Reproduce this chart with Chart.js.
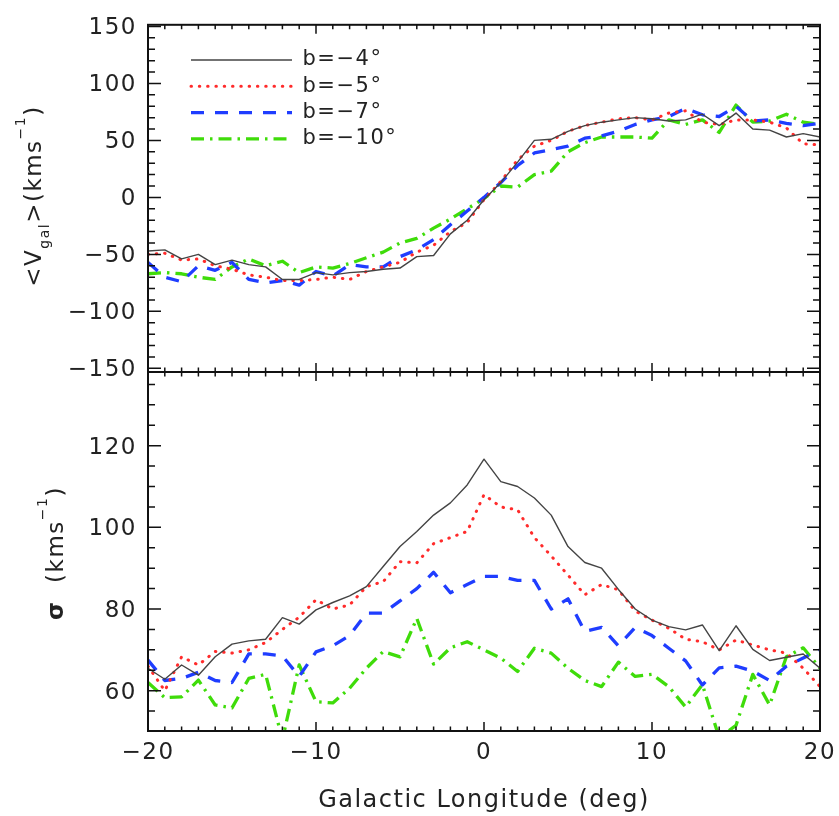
<!DOCTYPE html>
<html>
<head>
<meta charset="utf-8">
<title>Mean velocity and dispersion vs Galactic longitude</title>
<script src="https://cdn.jsdelivr.net/npm/chart.js@4.4.1/dist/chart.umd.min.js"></script>
<style>
  html, body { margin: 0; padding: 0; background: #ffffff; overflow: hidden; }
  #wrap { position: relative; width: 839px; height: 816px; background: #ffffff; }
  #wrap canvas { position: absolute; left: 0; top: 0; }
</style>
</head>
<body>
<div id="wrap">
  <canvas id="topChart" width="839" height="816"></canvas>
  <canvas id="bottomChart" width="839" height="816"></canvas>
</div>
<script>
// ---------------- data ----------------
const longitudes = [-20,-19,-18,-17,-16,-15,-14,-13,-12,-11,-10,-9,-8,-7,-6,-5,-4,-3,-2,-1,0,1,2,3,4,5,6,7,8,9,10,11,12,13,14,15,16,17,18,19,20];
const seriesLabels = ['b=\u22124\u00b0', 'b=\u22125\u00b0', 'b=\u22127\u00b0', 'b=\u221210\u00b0'];

// <V_gal> (km/s)
const vMeanB4  = [-47,-46,-54,-50,-59,-55,-59,-61,-72,-72,-66,-68,-66,-65,-63,-62,-52,-51,-32,-20,-2,13,31,50,51,58,63,66,68,70,69,67,68,73,63,74,60,59,53,56,53];
const vMeanB5  = [-50,-49,-55,-54,-60,-63,-68,-70,-73,-73,-72,-70,-72,-65,-61,-57,-48,-42,-30,-22,-2,14,33,45,50,58,63,66,69,70,68,74,76,66,64,68,68,66,61,47,46];
const vMeanB7  = [-57,-70,-74,-60,-64,-57,-72,-75,-73,-77,-65,-69,-59,-61,-61,-52,-46,-37,-24,-12,0,13,28,39,42,45,52,54,58,64,68,71,78,72.5,71,80,67,68,65,63,65];
const vMeanB10 = [-67,-66,-67,-70,-72,-61,-54,-60,-56,-66,-61,-62,-58,-53,-48,-40,-36,-27,-19,-10,-1,10,9,20,23,40,48,53,53,53,52,68,64,68,57,81,66,67,73,66,64];

// sigma (km/s)
const sigmaB4  = [65.5,62.8,66.3,63.8,68.3,71.4,72.2,72.6,77.9,76.3,79.8,81.6,83.2,85.5,90.4,95.3,99,103,106,110.4,116.7,111.2,110,107.2,103,95.3,91.4,90,84.8,80,77.3,75.7,74.9,76.1,69.8,75.9,70.1,67.4,68.2,69,65.5];
const sigmaB5  = [66,60,68.3,66.3,69.6,69.2,70,71.8,75,78,82.3,80,81,85.5,86.7,91.6,91.3,96,97.5,99,108,105,104.3,97.5,93,88.3,83.5,86,84.7,79.5,77.3,75.3,72.6,72,70,72.4,71.2,70,69.2,65.5,61];
const sigmaB7  = [67.5,62.5,63,64.5,62.5,62,69,69,68.5,63.5,69.5,71,73.5,79,79,82,85,89,84,86,88,88,87,87,80,82.5,74.5,75.5,71,75.5,73.5,70.4,67.3,61.4,65.6,66,64.8,62.5,66,68,70];
const sigmaB10 = [62,58.3,58.5,62.6,56.5,55.8,63,64,48,66.3,57.3,57,60.6,65.5,69.6,68.3,77.7,66.5,70.5,72,70,68,64.7,70.4,69.2,65.5,62.5,61,67,63.5,64,61,56,61.5,48.5,51.5,64,56.5,68.3,70.5,65.5];

// tick labels
const vTickValues = [-150,-100,-50,0,50,100,150];
const sigmaTickValues = [60,80,100,120];
const lonTickValues = [-20,-10,0,10,20];

// ---------------- styles ----------------
const FONT = "'DejaVu Sans', 'Liberation Sans', sans-serif";
const TEXT = '#222222';
const seriesStyles = [
  { color: '#444444', width: 1.4, dash: [],              cap: 'butt'  },
  { color: '#ff2b2b', width: 3.0, dash: [0.5, 7.8],      cap: 'round' },
  { color: '#1f3dff', width: 3.3, dash: [13, 11],        cap: 'butt'  },
  { color: '#3fdc0a', width: 3.3, dash: [13, 6, 2.5, 6], cap: 'butt'  }
];

function fmt(v) { return v < 0 ? '\u2212' + Math.abs(v) : String(v); }
function range(a, b, s) { const r = []; for (let v = a; v <= b + 1e-9; v += s) r.push(v); return r; }

function makeDatasets(series) {
  return series.map((vals, i) => ({
    label: seriesLabels[i],
    data: longitudes.map((l, k) => ({ x: l, y: vals[k] })),
    borderColor: seriesStyles[i].color,
    backgroundColor: seriesStyles[i].color,
    borderWidth: seriesStyles[i].width,
    borderDash: seriesStyles[i].dash,
    borderCapStyle: seriesStyles[i].cap,
    borderJoinStyle: 'round',
    pointRadius: 0,
    pointHoverRadius: 0,
    tension: 0,
    fill: false,
    clip: 0
  }));
}

// ---------------- plugins ----------------
const spacingPlugin = {
  id: 'spacing',
  beforeDraw(chart) { try { chart.ctx.letterSpacing = '1.5px'; } catch (e) {} }
};

const legendPlacer = {
  id: 'legendPlacer',
  beforeDraw(chart, args, opts) {
    const lg = chart.legend;
    if (!lg || !opts || opts.x === undefined) return;
    lg.left = opts.x - opts.pad;
    lg.top = opts.y - opts.pad - opts.size / 2;
    lg.width = 330; lg.right = lg.left + 330;
    lg.height = 220; lg.bottom = lg.top + 220;
  }
};

const framePlugin = {
  id: 'frame',
  afterDatasetsDraw(chart, args, o) {
    const { ctx, chartArea: a, scales } = chart;
    const xs = scales.x, ys = scales.y;
    ctx.save();
    ctx.strokeStyle = '#111111';
    ctx.lineWidth = 1.5;
    ctx.setLineDash([]);
    ctx.beginPath();
    o.xMinor.forEach(v => {
      const p = xs.getPixelForValue(v);
      if (p <= a.left + 0.5 || p >= a.right - 0.5) return;
      const len = o.xMajor.includes(v) ? 9 : 4.5;
      ctx.moveTo(p, a.bottom); ctx.lineTo(p, a.bottom - len);
      ctx.moveTo(p, a.top); ctx.lineTo(p, a.top + len);
    });
    o.yMinor.forEach(v => {
      const p = ys.getPixelForValue(v);
      if (p <= a.top + 0.5 || p >= a.bottom - 0.5) return;
      const len = o.yMajor.includes(v) ? 13 : 7;
      ctx.moveTo(a.left, p); ctx.lineTo(a.left + len, p);
      ctx.moveTo(a.right, p); ctx.lineTo(a.right - len, p);
    });
    ctx.stroke();
    ctx.lineWidth = 2;
    ctx.strokeRect(a.left, a.top, a.right - a.left, a.bottom - a.top);
    ctx.restore();
  }
};

const richYTitle = {
  id: 'richYTitle',
  afterDraw(chart, args, o) {
    if (!o || !o.parts) return;
    const ctx = chart.ctx, fs = o.size;
    const small = Math.round(fs * 0.62);
    const fontFor = p => (p.bold ? 'bold ' : '') + ((p.sub || p.sup) ? small : fs) + 'px ' + FONT;
    ctx.save();
    try { ctx.letterSpacing = '1.5px'; } catch (e) {}
    ctx.fillStyle = TEXT;
    ctx.translate(o.x, o.y);
    ctx.rotate(-Math.PI / 2);
    ctx.textAlign = 'left';
    ctx.textBaseline = 'alphabetic';
    let total = 0;
    o.parts.forEach(p => { ctx.font = fontFor(p); total += ctx.measureText(p.text).width; });
    let cx = -total / 2;
    o.parts.forEach(p => {
      ctx.font = fontFor(p);
      const dy = p.sub ? fs * 0.35 : (p.sup ? -fs * 0.7 : 0);
      ctx.fillText(p.text, cx, dy);
      cx += ctx.measureText(p.text).width;
    });
    ctx.restore();
  }
};

const LEGEND_FONT = 21;
const LEGEND_PAD = 5.3;

// ---------------- top chart: <V_gal> ----------------
new Chart(document.getElementById('topChart'), {
  type: 'line',
  data: { datasets: makeDatasets([vMeanB4, vMeanB5, vMeanB7, vMeanB10]) },
  options: {
    responsive: false,
    animation: false,
    events: [],
    devicePixelRatio: 1,
    layout: { padding: { top: 16, right: 19, bottom: 444, left: 0 } },
    scales: {
      x: { type: 'linear', min: -20, max: 20, display: false,
           afterFit: s => { s.paddingLeft = 0; s.paddingRight = 0; } },
      y: {
        type: 'linear', min: -153.2, max: 151.45,
        afterBuildTicks: s => { s.ticks = vTickValues.map(v => ({ value: v })); },
        afterFit: s => { s.width = 148; },
        grid: { display: false, drawTicks: false },
        border: { display: false },
        ticks: { padding: 11, labelOffset: 2, color: TEXT, font: { family: FONT, size: 23 }, callback: v => fmt(v) }
      }
    },
    plugins: {
      tooltip: { enabled: false },
      legend: {
        display: true,
        position: 'chartArea',
        align: 'start',
        labels: {
          usePointStyle: true,
          pointStyleWidth: 101,
          padding: LEGEND_PAD,
          color: TEXT,
          font: { family: FONT, size: LEGEND_FONT },
          generateLabels: chart => chart.data.datasets.map((ds, i) => ({
            text: ds.label,
            fontColor: TEXT,
            strokeStyle: ds.borderColor,
            fillStyle: ds.borderColor,
            lineWidth: ds.borderWidth,
            lineDash: ds.borderDash,
            lineDashOffset: 0,
            lineCap: ds.borderCapStyle,
            lineJoin: 'round',
            pointStyle: 'line',
            rotation: 0,
            hidden: false,
            datasetIndex: i
          }))
        }
      },
      legendPlacer: { x: 191, y: 60, pad: LEGEND_PAD, size: LEGEND_FONT },
      frame: {
        xMinor: range(-20, 20, 1), xMajor: lonTickValues,
        yMinor: range(-150, 150, 10), yMajor: vTickValues
      },
      richYTitle: {
        x: 41, y: 196, size: 23,
        parts: [{ text: '<V' }, { text: 'gal', sub: true }, { text: '>(kms' }, { text: '\u22121', sup: true }, { text: ')' }]
      }
    }
  },
  plugins: [spacingPlugin, legendPlacer, framePlugin, richYTitle]
});

// ---------------- bottom chart: sigma ----------------
new Chart(document.getElementById('bottomChart'), {
  type: 'line',
  data: { datasets: makeDatasets([sigmaB4, sigmaB5, sigmaB7, sigmaB10]) },
  options: {
    responsive: false,
    animation: false,
    events: [],
    devicePixelRatio: 1,
    layout: { padding: { top: 372, right: 19, bottom: 0, left: 0 } },
    scales: {
      x: {
        type: 'linear', min: -20, max: 20,
        afterBuildTicks: s => { s.ticks = lonTickValues.map(v => ({ value: v })); },
        afterFit: s => { s.height = 85; s.paddingLeft = 0; s.paddingRight = 0; },
        grid: { display: false, drawTicks: false },
        border: { display: false },
        ticks: { autoSkip: false, maxRotation: 0, padding: 8, color: TEXT, font: { family: FONT, size: 23 }, callback: v => fmt(v) },
        title: { display: true, text: 'Galactic Longitude (deg)', color: TEXT, font: { family: FONT, size: 24 }, padding: { top: 0, bottom: 1 } }
      },
      y: {
        type: 'linear', min: 50.13, max: 138.05,
        afterBuildTicks: s => { s.ticks = sigmaTickValues.map(v => ({ value: v })); },
        afterFit: s => { s.width = 148; },
        grid: { display: false, drawTicks: false },
        border: { display: false },
        ticks: { padding: 11, labelOffset: 2, color: TEXT, font: { family: FONT, size: 23 }, callback: v => fmt(v) }
      }
    },
    plugins: {
      tooltip: { enabled: false },
      legend: { display: false },
      frame: {
        xMinor: range(-20, 20, 1), xMajor: lonTickValues,
        yMinor: range(50, 135, 5), yMajor: sigmaTickValues
      },
      richYTitle: {
        x: 63, y: 553, size: 23,
        parts: [{ text: '\u03c3', bold: true }, { text: '  (kms' }, { text: '\u22121', sup: true }, { text: ')' }]
      }
    }
  },
  plugins: [spacingPlugin, framePlugin, richYTitle]
});
</script>
</body>
</html>
